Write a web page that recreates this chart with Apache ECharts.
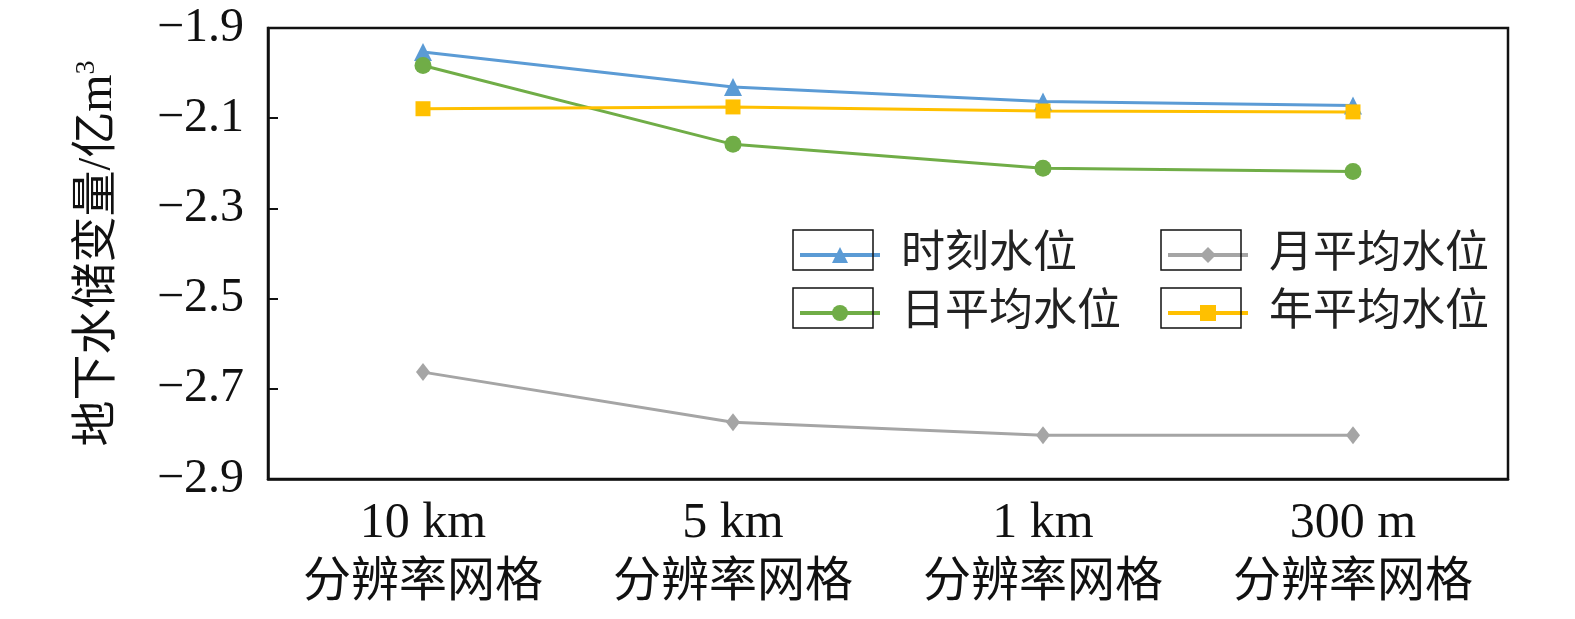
<!DOCTYPE html>
<html>
<head>
<meta charset="utf-8">
<script src="https://cdn.jsdelivr.net/npm/echarts@6/dist/echarts.min.js"></script>
<style>
  html, body { margin: 0; padding: 0; background: #fff; }
  #main { width: 1575px; height: 619px; }
</style>
</head>
<body>
<div id="main"></div>
<script>
var categories = ['10 km', '5 km', '1 km', '300 m'];
var categorySub = '分辨率网格';
var yTicks = { min: -2.9, max: -1.9, step: 0.2 };

var seriesNames = ['时刻水位', '日平均水位', '月平均水位', '年平均水位'];
var shikeValues = [-1.953, -2.031, -2.063, -2.072];
var ripingjunValues = [-1.983, -2.158, -2.211, -2.218];
var yuepingjunValues = [-2.663, -2.774, -2.803, -2.803];
var nianpingjunValues = [-2.079, -2.075, -2.084, -2.086];

var serif = "'Liberation Serif', 'Noto Sans CJK SC', serif";
var cjk = "'Liberation Serif', 'Noto Sans CJK SC', sans-serif";

var myChart = echarts.init(document.getElementById('main'));

function lineSeries(name, values, color, symbol, size) {
    return {
        name: name,
        type: 'line',
        data: values,
        symbol: symbol,
        symbolSize: size,
        showAllSymbol: true,
        lineStyle: { color: color, width: 3 },
        itemStyle: { color: color },
        z: 3
    };
}

var legendText = { fontFamily: cjk, fontSize: 44, color: '#222', lineHeight: 48, padding: [0, 0, 0, 16] };

var option = {
    backgroundColor: '#fff',
    animation: false,
    grid: {
        left: 268, right: 67, top: 28, bottom: 140,
        show: true, borderColor: '#111', borderWidth: 2.5
    },
    legend: [
        {
            data: [seriesNames[0], seriesNames[1]],
            orient: 'vertical',
            left: 793, top: 226,
            itemWidth: 80, itemHeight: 20, itemGap: 10,
            lineStyle: { width: 4 },
            textStyle: legendText
        },
        {
            data: [seriesNames[2], seriesNames[3]],
            orient: 'vertical',
            left: 1161, top: 226,
            itemWidth: 80, itemHeight: 20, itemGap: 10,
            lineStyle: { width: 4 },
            textStyle: legendText
        }
    ],
    xAxis: {
        type: 'category',
        data: categories,
        boundaryGap: true,
        axisLine: { lineStyle: { color: '#111', width: 2.5 } },
        axisTick: { inside: true, length: 20, alignWithLabel: true, lineStyle: { color: '#111', width: 2 } },
        axisLabel: {
            margin: 16,
            interval: 0,
            formatter: function (v) { return '{a|' + v + '}\n{b|' + categorySub + '}'; },
            rich: {
                a: { fontFamily: serif, fontSize: 50, lineHeight: 58, color: '#111' },
                b: { fontFamily: cjk, fontSize: 48, lineHeight: 60, color: '#111' }
            }
        },
        splitLine: { show: false }
    },
    yAxis: {
        type: 'value',
        min: yTicks.min,
        max: yTicks.max,
        interval: yTicks.step,
        name: '{c|地下水储变量/亿}{m|m}{s|3}',
        nameLocation: 'middle',
        nameGap: 145,
        nameTextStyle: {
            color: '#111',
            rich: {
                c: { fontFamily: cjk, fontSize: 46, color: '#111' },
                m: { fontFamily: serif, fontSize: 48, color: '#111' },
                s: { fontFamily: serif, fontSize: 28, color: '#111', padding: [0, 0, 22, 0] }
            }
        },
        axisLine: { show: true, lineStyle: { color: '#111', width: 2.5 } },
        axisTick: { show: true, inside: true, length: 10, lineStyle: { color: '#111', width: 2 } },
        axisLabel: {
            margin: 24,
            fontFamily: serif,
            fontSize: 48,
            color: '#111',
            formatter: function (v) { return '\u2212' + Math.abs(v).toFixed(1); }
        },
        splitLine: { show: false }
    },
    graphic: [
        { type: 'rect', shape: { x: 793, y: 230, width: 80, height: 40 }, style: { fill: 'none', stroke: '#111', lineWidth: 1.5 }, z: 100 },
        { type: 'rect', shape: { x: 793, y: 288, width: 80, height: 40 }, style: { fill: 'none', stroke: '#111', lineWidth: 1.5 }, z: 100 },
        { type: 'rect', shape: { x: 1161, y: 230, width: 80, height: 40 }, style: { fill: 'none', stroke: '#111', lineWidth: 1.5 }, z: 100 },
        { type: 'rect', shape: { x: 1161, y: 288, width: 80, height: 40 }, style: { fill: 'none', stroke: '#111', lineWidth: 1.5 }, z: 100 }
    ],
    series: [
        lineSeries(seriesNames[0], shikeValues, '#5B9BD5', 'triangle', 18),
        lineSeries(seriesNames[1], ripingjunValues, '#70AD47', 'circle', 17),
        lineSeries(seriesNames[2], yuepingjunValues, '#A5A5A5', 'diamond', [14, 18]),
        lineSeries(seriesNames[3], nianpingjunValues, '#FFC000', 'rect', 15)
    ]
};

myChart.setOption(option);
</script>
</body>
</html>
